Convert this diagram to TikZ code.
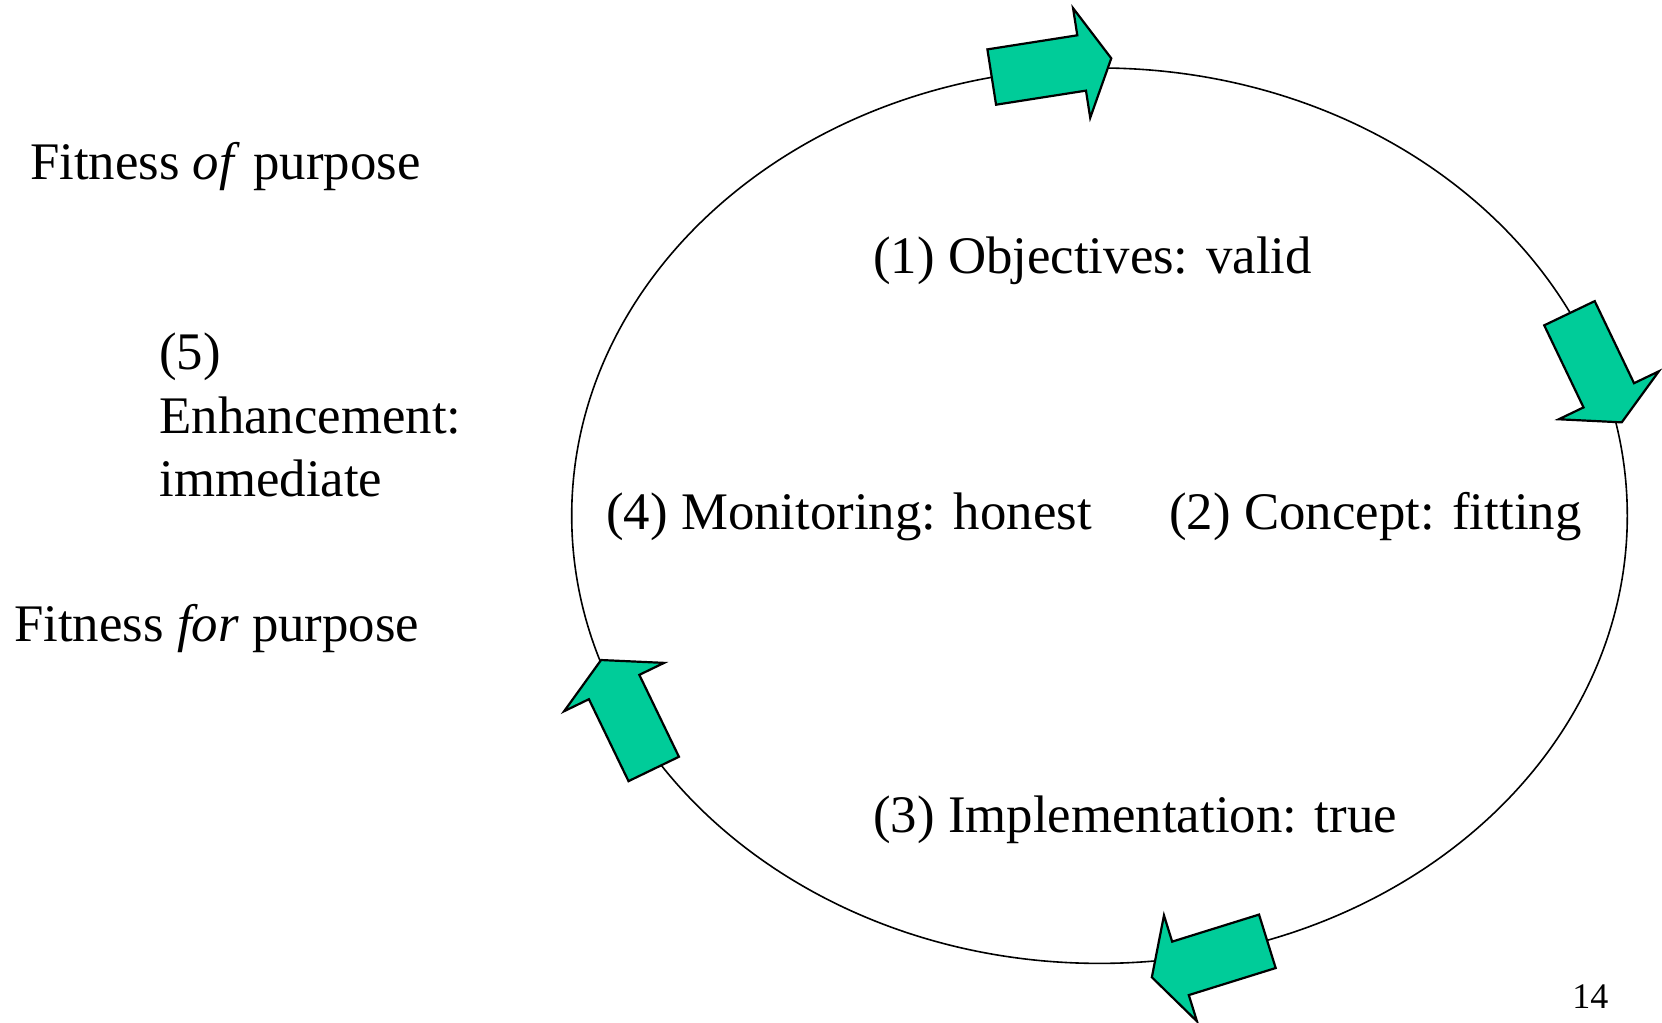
\documentclass[tikz,border=0pt]{standalone}
\usepackage{fontspec}
\setmainfont{Liberation Serif}
\definecolor{arrowgreen}{HTML}{00CC99}

\begin{document}
\begin{tikzpicture}[x=0.5pt,y=0.5pt,
    cycletext/.style={anchor=base west,inner sep=0pt,font=\fontsize{26.4}{31.8}\selectfont},
    arrowblock/.pic={
        \filldraw[fill=arrowgreen,draw=black,line width=1.1pt,line join=miter]
            (-60.5,-28) -- (30.5,-28) -- (30.5,-55.5) -- (60.5,0)
            -- (30.5,55.5) -- (30.5,28) -- (-60.5,28) -- cycle;
    }]
    \useasboundingbox (0,0) rectangle (1662,1023);

    % The cycle
    \coordinate (centre) at (1099.5,507.3);
    \draw[line width=0.8pt] (centre) ellipse [x radius=527.8, y radius=447.7];

    % Block arrows along the cycle
    \pic[rotate=8.9] at (1051.5,955.3) {arrowblock};
    \pic[rotate=-64.4] at (1595.6,655.2) {arrowblock};
    \pic[rotate=197.3] at (1209.6,63.7) {arrowblock};
    \pic[rotate=115.8] at (627.4,308.5) {arrowblock};

    % Stages
    \node[cycletext] (objectives) at (873,749.5) {(1) Objectives: valid};
    \node[cycletext] (concept) at (1169,493) {(2) Concept: fitting};
    \node[cycletext] (implementation) at (873,190) {(3) Implementation: true};
    \node[cycletext] (monitoring) at (606,493) {(4) Monitoring: honest};

    % Left side
    \node[cycletext] (fitnessof) at (29.7,843) {Fitness \textit{of} purpose};
    \node[cycletext,align=left] (enhancement) at (159,526) {(5)\\Enhancement:\\immediate};
    \node[cycletext] (fitnessfor) at (13.8,381) {Fitness \textit{for} purpose};

    % Page number
    \node[anchor=base west,inner sep=0pt,font=\fontsize{18}{21}\selectfont] (pagenum) at (1572,14) {14};
\end{tikzpicture}
\end{document}
